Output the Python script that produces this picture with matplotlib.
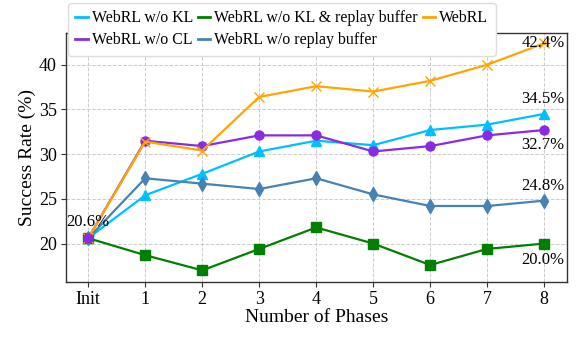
import matplotlib
matplotlib.use("Agg")
import matplotlib.pyplot as plt

plt.rcParams['font.family'] = ['Liberation Serif', 'DejaVu Serif']

x_labels = ["Init", "1", "2", "3", "4", "5", "6", "7", "8"]
wo_kl = [20.6, 25.4, 27.8, 30.3, 31.5, 31.0, 32.7, 33.3, 34.5]
wo_cl = [20.6, 31.5, 30.9, 32.1, 32.1, 30.3, 30.9, 32.1, 32.7]
wo_kl_replay = [20.6, 18.7, 17.0, 19.4, 21.8, 20.0, 17.6, 19.4, 20.0]
wo_replay = [20.6, 27.3, 26.7, 26.1, 27.3, 25.5, 24.2, 24.2, 24.8]
webrl = [20.6, 31.4, 30.4, 36.4, 37.6, 37.0, 38.2, 40.0, 42.4]

fig = plt.figure(figsize=(5.87, 3.41), dpi=100)
ax = fig.add_axes([66/587, 1-282/341, (567-66)/587, (282-33)/341])
xs = list(range(len(x_labels)))

lw = 1.6
h1, = ax.plot(xs, wo_kl, color='#00BFFF', marker='^', ms=6.5, lw=lw, label='WebRL w/o KL')
h2, = ax.plot(xs, wo_cl, color='#8A2BE2', marker='o', ms=6.5, lw=lw, label='WebRL w/o CL')
h3, = ax.plot(xs, wo_kl_replay, color='#008000', marker='s', ms=6.5, lw=lw, label='WebRL w/o KL & replay buffer')
h4, = ax.plot(xs, wo_replay, color='#4682B4', marker='d', ms=7, lw=lw, label='WebRL w/o replay buffer')
h5, = ax.plot(xs, webrl, color='#FFA500', marker='x', ms=6.5, lw=lw, label='WebRL')
ax.plot([0], [wo_cl[0]], color='#8A2BE2', marker='o', ms=6.5, lw=0, zorder=5)

ax.set_xlim(-0.39, 8.4)
ax.set_ylim(15.7, 43.55)
ax.set_xticks(xs)
ax.set_xticklabels(x_labels)
ax.set_yticks([20, 25, 30, 35, 40])
ax.tick_params(labelsize=13, length=3.5, color='#333333', pad=3)
ax.grid(True, linestyle='--', color='#cccccc', lw=0.7)
ax.set_axisbelow(True)
for s in ax.spines.values():
    s.set_color('#333333')
    s.set_linewidth(1.0)
ax.set_xlabel('Number of Phases', fontsize=14, labelpad=1)
ax.set_ylabel('Success Rate (%)', fontsize=14, labelpad=2)

fs = 12
ax.annotate(f"{webrl[0]:.1f}%", (0, webrl[0]), xytext=(0, 12), textcoords='offset points',
            ha='center', va='center', fontsize=fs, zorder=6)
ax.annotate(f"{webrl[-1]:.1f}%", (8, webrl[-1]), xytext=(-1, 0), textcoords='offset points',
            ha='center', va='center', fontsize=fs, zorder=6)
ax.annotate(f"{wo_kl[-1]:.1f}%", (8, wo_kl[-1]), xytext=(-1, 11), textcoords='offset points',
            ha='center', va='center', fontsize=fs)
ax.annotate(f"{wo_cl[-1]:.1f}%", (8, wo_cl[-1]), xytext=(-1, -11), textcoords='offset points',
            ha='center', va='center', fontsize=fs)
ax.annotate(f"{wo_replay[-1]:.1f}%", (8, wo_replay[-1]), xytext=(-1, 10.5), textcoords='offset points',
            ha='center', va='center', fontsize=fs)
ax.annotate(f"{wo_kl_replay[-1]:.1f}%", (8, wo_kl_replay[-1]), xytext=(-1, -11.5), textcoords='offset points',
            ha='center', va='center', fontsize=fs)

leg_handles = []
for h in [h1, h2, h3, h4, h5]:
    l, = ax.plot([], [], color=h.get_color(), lw=2)
    l.set_label(h.get_label())
    leg_handles.append(l)
leg = ax.legend(handles=leg_handles, ncol=3, loc='upper left',
                bbox_to_anchor=(68/587, 1-3/341), bbox_transform=fig.transFigure,
                fontsize=11.4, handlelength=0.8, handletextpad=0.25, columnspacing=0.3,
                borderpad=0.45, labelspacing=0.4, framealpha=1, edgecolor='#dddddd',
                fancybox=True, borderaxespad=0)

fig.savefig('out.png', dpi=100)
